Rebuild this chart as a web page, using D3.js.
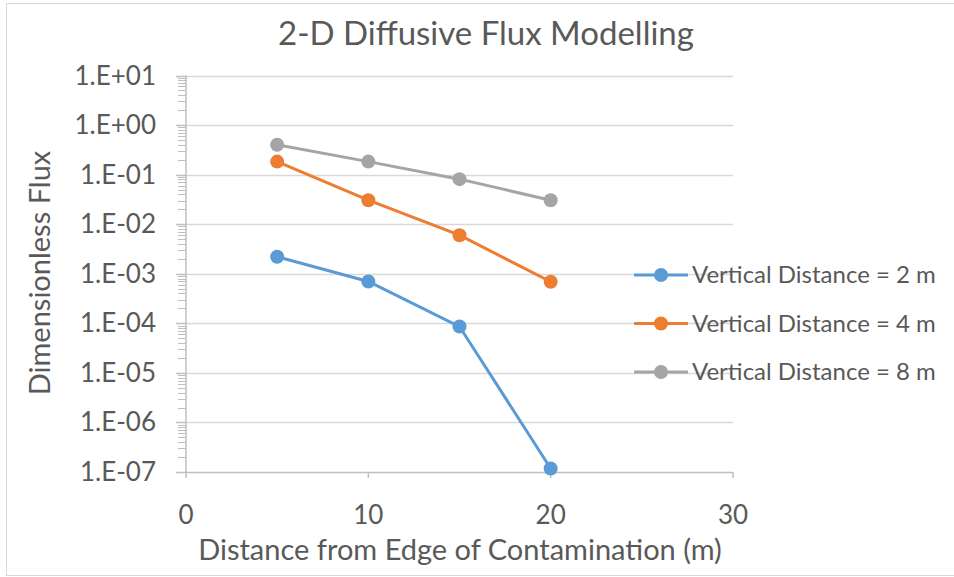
<!DOCTYPE html>
<html>
<head>
<meta charset="utf-8">
<script src="https://cdn.jsdelivr.net/npm/d3@7"></script>
<style>
  body { margin: 0; background: #fff; }
  text { font-family: Lato, "Open Sans", sans-serif; fill: #595959; }
</style>
</head>
<body>
<div id="chart"></div>
<script>
// distances along x (m)
var distances = [5, 10, 15, 20];
// dimensionless flux per vertical distance
var flux2m = [2.2e-3, 7.0e-4, 8.6e-5, 1.18e-7];
var flux4m = [0.183, 0.0305, 0.0060, 6.9e-4];
var flux8m = [0.40, 0.183, 0.081, 0.0305];
var seriesNames = ["Vertical Distance = 2 m", "Vertical Distance = 4 m", "Vertical Distance = 8 m"];
var seriesColors = ["#5B9BD5", "#ED7D31", "#A5A5A5"];
var xTicks = [0, 10, 20, 30];
var yTicks = [1e1, 1e0, 1e-1, 1e-2, 1e-3, 1e-4, 1e-5, 1e-6, 1e-7];

var width = 954, height = 577;
var plotLeft = 186, plotRight = 733, plotTop = 75.5, plotBottom = 472;

var svg = d3.select("#chart").append("svg")
  .attr("width", width)
  .attr("height", height);

// outer border
svg.append("rect")
  .attr("x", 6.5).attr("y", 3.5)
  .attr("width", 960).attr("height", 572)
  .attr("fill", "none")
  .attr("stroke", "#D9D9D9")
  .attr("stroke-width", 1);

var x = d3.scaleLinear().domain([0, 30]).range([plotLeft, plotRight]);
var y = d3.scaleLog().domain([1e-7, 1e1]).range([plotBottom, plotTop]);

function sci(v) {
  var e = Math.round(Math.log10(v));
  var s = e < 0 ? "-" : "+";
  var a = Math.abs(e);
  return "1.E" + s + (a < 10 ? "0" + a : a);
}

function py(d) { return Math.round(y(d)) + 0.5; }

// gridlines
svg.append("g").selectAll("line")
  .data(yTicks.slice(0, -1))
  .enter().append("line")
  .attr("x1", plotLeft).attr("x2", plotRight)
  .attr("y1", py).attr("y2", py)
  .attr("stroke", "#D9D9D9")
  .attr("stroke-width", 1.5);

// minor ticks on y axis
var minors = [];
for (var e = -7; e < 1; e++) {
  for (var m = 2; m <= 9; m++) minors.push(m * Math.pow(10, e));
}
svg.append("g").selectAll("line")
  .data(minors)
  .enter().append("line")
  .attr("x1", 178).attr("x2", plotLeft)
  .attr("y1", py).attr("y2", py)
  .attr("stroke", "#BFBFBF")
  .attr("stroke-width", 1);

// major ticks
svg.append("g").selectAll("line")
  .data(yTicks)
  .enter().append("line")
  .attr("x1", 176).attr("x2", plotLeft)
  .attr("y1", py).attr("y2", py)
  .attr("stroke", "#BFBFBF")
  .attr("stroke-width", 1.5);

// y axis line
svg.append("line")
  .attr("x1", plotLeft).attr("x2", plotLeft)
  .attr("y1", plotTop).attr("y2", plotBottom + 0.5)
  .attr("stroke", "#BFBFBF").attr("stroke-width", 1.5);

// x axis line and ticks
svg.append("line")
  .attr("x1", plotLeft).attr("x2", plotRight)
  .attr("y1", Math.round(plotBottom) + 0.5).attr("y2", Math.round(plotBottom) + 0.5)
  .attr("stroke", "#BFBFBF").attr("stroke-width", 1.5);
svg.append("g").selectAll("line")
  .data(xTicks)
  .enter().append("line")
  .attr("x1", function(d) { return x(d); })
  .attr("x2", function(d) { return x(d); })
  .attr("y1", plotBottom).attr("y2", plotBottom + 6)
  .attr("stroke", "#BFBFBF").attr("stroke-width", 1.5);

// tick labels
svg.append("g").selectAll("text")
  .data(yTicks)
  .enter().append("text")
  .attr("x", 156)
  .attr("y", function(d) { return y(d) + 9; })
  .attr("text-anchor", "end")
  .style("font-size", "26px")
  .text(sci);

svg.append("g").selectAll("text")
  .data(xTicks)
  .enter().append("text")
  .attr("x", function(d) { return x(d); })
  .attr("y", 524)
  .attr("text-anchor", "middle")
  .style("font-size", "26px")
  .text(function(d) { return d; });

// titles
svg.append("text")
  .attr("x", 486).attr("y", 45)
  .attr("text-anchor", "middle")
  .style("font-size", "33px")
  .text("2-D Diffusive Flux Modelling");

svg.append("text")
  .attr("x", 460).attr("y", 560)
  .attr("text-anchor", "middle")
  .style("font-size", "29px")
  .text("Distance from Edge of Contamination (m)");

svg.append("text")
  .attr("transform", "translate(50,273) rotate(-90)")
  .attr("text-anchor", "middle")
  .style("font-size", "29px")
  .text("Dimensionless Flux");

// series
var allSeries = [flux2m, flux4m, flux8m];
var line = d3.line()
  .x(function(d, i) { return x(distances[i]); })
  .y(function(d) { return y(d); });

allSeries.forEach(function(vals, k) {
  var g = svg.append("g");
  g.append("path")
    .datum(vals)
    .attr("d", line)
    .attr("fill", "none")
    .attr("stroke", seriesColors[k])
    .attr("stroke-width", 3);
  g.selectAll("circle")
    .data(vals)
    .enter().append("circle")
    .attr("cx", function(d, i) { return x(distances[i]); })
    .attr("cy", function(d) { return y(d); })
    .attr("r", 7)
    .attr("fill", seriesColors[k]);
});

// legend
var legend = svg.append("g").selectAll("g")
  .data(seriesNames)
  .enter().append("g")
  .attr("transform", function(d, i) { return "translate(0," + (275 + i * 48.5) + ")"; });
legend.append("line")
  .attr("x1", 634).attr("x2", 688)
  .attr("stroke", function(d, i) { return seriesColors[i]; })
  .attr("stroke-width", 3);
legend.append("circle")
  .attr("cx", 661).attr("r", 7)
  .attr("fill", function(d, i) { return seriesColors[i]; });
legend.append("text")
  .attr("x", 692).attr("y", 8)
  .style("font-size", "24px")
  .text(function(d) { return d; });
</script>
</body>
</html>
